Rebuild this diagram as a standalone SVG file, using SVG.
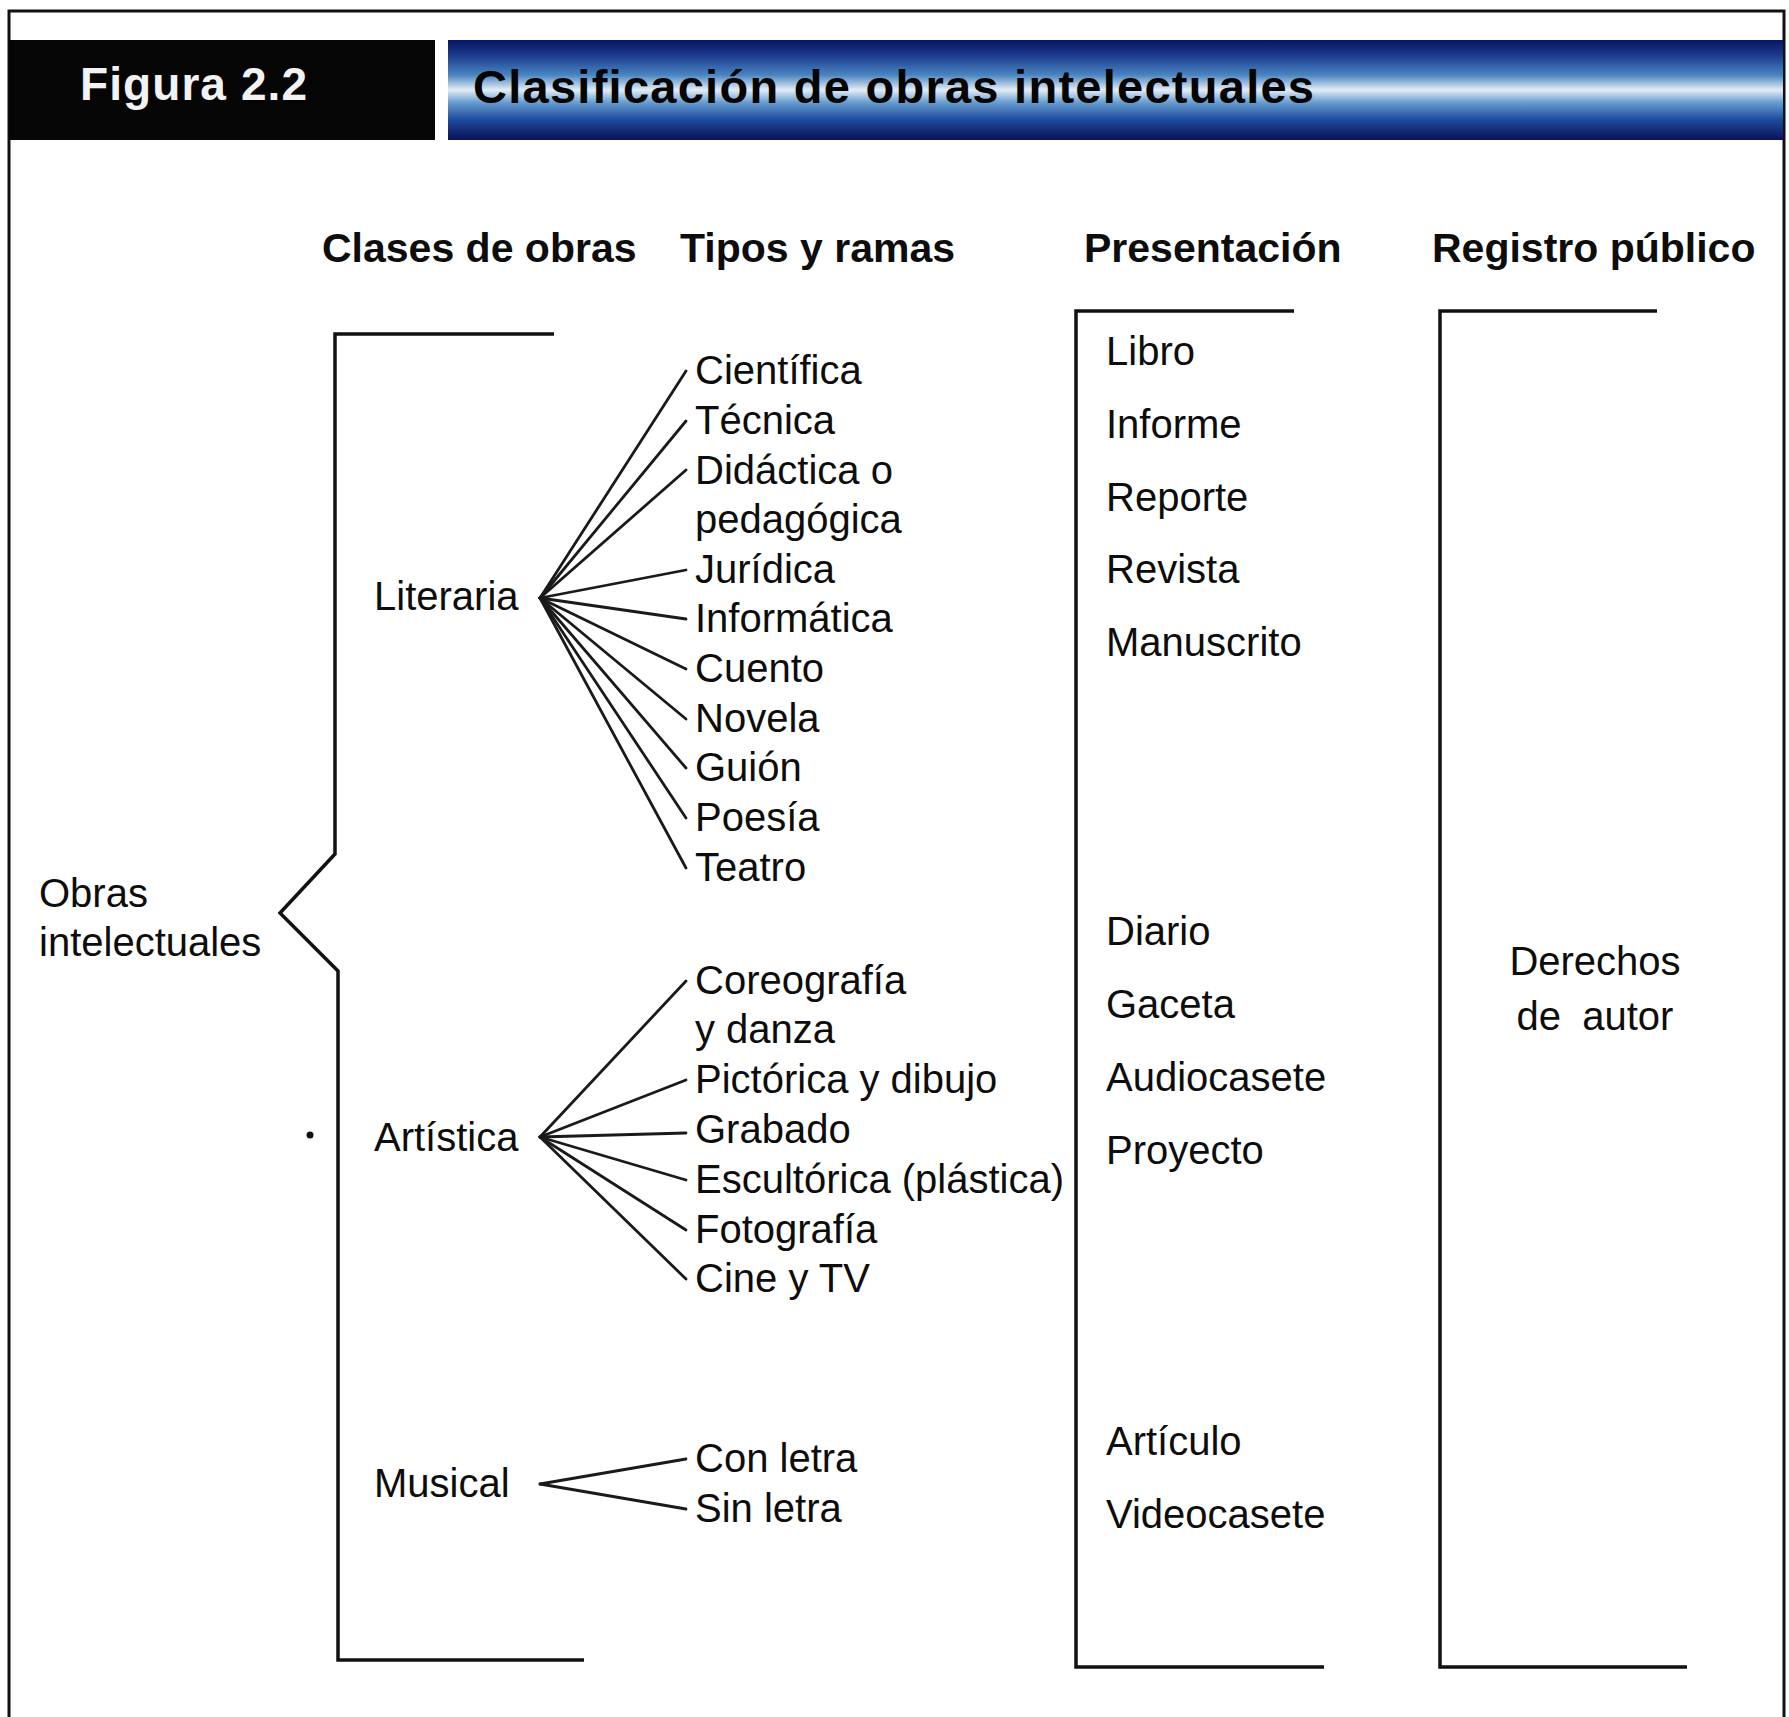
<svg xmlns="http://www.w3.org/2000/svg" width="1789" height="1717" viewBox="0 0 1789 1717">
<style>
.t{font-family:"Liberation Sans",Arial,sans-serif;font-size:40px;fill:#0d0d0d}
.h{font-family:"Liberation Sans",Arial,sans-serif;font-size:41px;font-weight:bold;fill:#0d0d0d}
.br{fill:none;stroke:#111;stroke-width:3.5;stroke-linejoin:miter}
.fan line{stroke:#1a1a1a;stroke-width:2.8;stroke-linecap:round}
</style>
<defs>
<linearGradient id="blue" x1="0" y1="0" x2="0" y2="1">
<stop offset="0" stop-color="#0a1560"/>
<stop offset="0.15" stop-color="#1a3a8e"/>
<stop offset="0.35" stop-color="#4a84c0"/>
<stop offset="0.5" stop-color="#e4edf6"/>
<stop offset="0.62" stop-color="#6a9fd0"/>
<stop offset="0.8" stop-color="#1d4a9c"/>
<stop offset="1" stop-color="#0a1258"/>
</linearGradient>
</defs>
<rect width="1789" height="1717" fill="#fff"/>
<path d="M9 1717 V11 H1784 V1717" fill="none" stroke="#111" stroke-width="3"/>
<g id="header">
<rect x="9" y="40" width="426" height="100" fill="#050505"/>
<text x="80" y="100" font-family="'Liberation Sans',Arial,sans-serif" font-size="46" font-weight="bold" fill="#f2f2f2" textLength="227">Figura 2.2</text>
<rect x="448" y="40" width="1335" height="100" fill="url(#blue)"/>
<text x="473" y="103" font-family="'Liberation Sans',Arial,sans-serif" font-size="47" font-weight="bold" fill="#050505" textLength="841">Clasificación de obras intelectuales</text>
</g>
<g id="column-headers">
<text class="h" x="322" y="262">Clases de obras</text>
<text class="h" x="680" y="262">Tipos y ramas</text>
<text class="h" x="1084" y="262">Presentación</text>
<text class="h" x="1432" y="262">Registro público</text>
</g>
<g id="connectors">
<path class="br" d="M554 334 H335 V854 L280 913 L338 971 V1660 H584"/>
<path class="br" d="M1294 311 H1076 V1667 H1324"/>
<path class="br" d="M1657 311 H1440 V1667 H1687"/>
<g class="fan">
<line x1="540" y1="598" x2="686" y2="371"/>
<line x1="540" y1="598" x2="686" y2="421"/>
<line x1="540" y1="598" x2="686" y2="470"/>
<line x1="540" y1="598" x2="686" y2="570"/>
<line x1="540" y1="598" x2="686" y2="619"/>
<line x1="540" y1="598" x2="686" y2="669"/>
<line x1="540" y1="598" x2="686" y2="719"/>
<line x1="540" y1="598" x2="686" y2="768"/>
<line x1="540" y1="598" x2="686" y2="818"/>
<line x1="540" y1="598" x2="686" y2="868"/>
<line x1="540" y1="1137" x2="686" y2="981"/>
<line x1="540" y1="1137" x2="686" y2="1080"/>
<line x1="540" y1="1137" x2="686" y2="1133"/>
<line x1="540" y1="1137" x2="686" y2="1180"/>
<line x1="540" y1="1137" x2="686" y2="1230"/>
<line x1="540" y1="1137" x2="686" y2="1279"/>
<line x1="540" y1="1484" x2="686" y2="1459"/>
<line x1="540" y1="1484" x2="686" y2="1509"/>
</g>
<circle cx="310" cy="1135" r="3.5" fill="#111"/>
</g>
<g id="obras-intelectuales">
<text class="t" x="39" y="907">Obras</text>
<text class="t" x="39" y="956">intelectuales</text>
</g>
<g id="literaria"><text class="t" x="374" y="610">Literaria</text></g>
<g id="artistica"><text class="t" x="374" y="1151">Artística</text></g>
<g id="musical"><text class="t" x="374" y="1497">Musical</text></g>
<g id="tipos-literaria">
<text class="t" x="695" y="384">Científica</text>
<text class="t" x="695" y="434">Técnica</text>
<text class="t" x="695" y="484">Didáctica o</text>
<text class="t" x="695" y="533">pedagógica</text>
<text class="t" x="695" y="583">Jurídica</text>
<text class="t" x="695" y="632">Informática</text>
<text class="t" x="695" y="682">Cuento</text>
<text class="t" x="695" y="732">Novela</text>
<text class="t" x="695" y="781">Guión</text>
<text class="t" x="695" y="831">Poesía</text>
<text class="t" x="695" y="881">Teatro</text>
</g>
<g id="tipos-artistica">
<text class="t" x="695" y="994">Coreografía</text>
<text class="t" x="695" y="1043">y danza</text>
<text class="t" x="695" y="1093">Pictórica y dibujo</text>
<text class="t" x="695" y="1143">Grabado</text>
<text class="t" x="695" y="1193">Escultórica (plástica)</text>
<text class="t" x="695" y="1243">Fotografía</text>
<text class="t" x="695" y="1292">Cine y TV</text>
</g>
<g id="tipos-musical">
<text class="t" x="695" y="1472">Con letra</text>
<text class="t" x="695" y="1522">Sin letra</text>
</g>
<g id="presentacion">
<text class="t" x="1106" y="365">Libro</text>
<text class="t" x="1106" y="438">Informe</text>
<text class="t" x="1106" y="511">Reporte</text>
<text class="t" x="1106" y="583">Revista</text>
<text class="t" x="1106" y="656">Manuscrito</text>
<text class="t" x="1106" y="945">Diario</text>
<text class="t" x="1106" y="1018">Gaceta</text>
<text class="t" x="1106" y="1091">Audiocasete</text>
<text class="t" x="1106" y="1164">Proyecto</text>
<text class="t" x="1106" y="1455">Artículo</text>
<text class="t" x="1106" y="1528">Videocasete</text>
</g>
<g id="registro">
<text class="t" x="1595" y="975" text-anchor="middle">Derechos</text>
<text class="t" x="1595" y="1030" text-anchor="middle" word-spacing="10">de autor</text>
</g>
</svg>
